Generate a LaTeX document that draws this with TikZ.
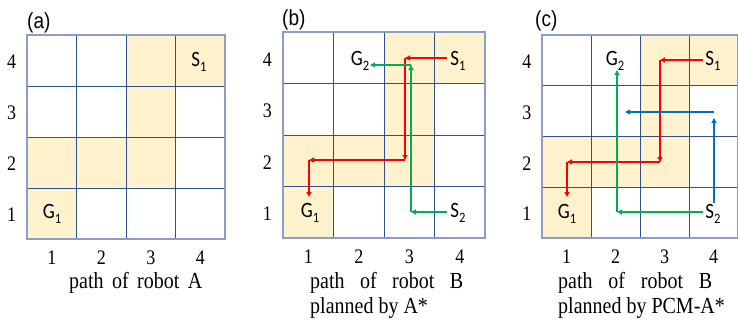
\documentclass[tikz,border=0pt]{standalone}
\usepackage{fontspec}
\usepackage{graphicx}
\setmainfont{Liberation Serif}
\newfontfamily\lblfont{Carlito}
\newfontfamily\panelfont{Liberation Sans}
\usetikzlibrary{arrows.meta}

\definecolor{cellfill}{RGB}{255,242,204}
\definecolor{gridin}{RGB}{47,82,143}
\definecolor{gridout}{RGB}{140,158,196}
\definecolor{pathred}{RGB}{255,0,0}
\definecolor{pathgreen}{RGB}{0,176,80}
\definecolor{pathblue}{RGB}{0,112,192}

\tikzset{
  move/.style={line width=1.4pt, -{Triangle[length=5pt,width=5pt]}},
  digit/.style={font=\fontsize{18}{18}\selectfont, inner sep=0pt},
  caption/.style={font=\fontsize{20}{25}\selectfont, inner sep=0pt, align=left, anchor=base west},
  panel/.style={font=\panelfont\fontsize{19}{19}\selectfont, inner sep=0pt, anchor=base west},
  cellmark/.style={font=\lblfont\fontsize{19}{19}\selectfont, inner sep=0pt},
}

% text in this figure is set slightly taller than wide
\newcommand\vstretch[1]{\scalebox{1}[1.15]{#1}}
% S/G marks with a lowered small index
\newcommand\cellname[2]{\vstretch{#1\raisebox{-4pt}{\fontsize{12.5}{12.5}\selectfont #2}}}

% 4x4 board: #1,#2 top-left corner, #3 cell width, #4 cell height, #5 name prefix
\newcommand\board[5]{%
  \begin{scope}[shift={(#1,#2)}, x=#3pt, y=-#4pt]
    \foreach \c/\r in {3/4,4/4,3/3,1/2,2/2,3/2,1/1}
      \fill[cellfill] (\c-1,4-\r) rectangle (\c,5-\r);
    \draw[gridin, line width=1pt]
      (1,0)--(1,4) (2,0)--(2,4) (3,0)--(3,4)
      (0,1)--(4,1) (0,2)--(4,2) (0,3)--(4,3);
    \draw[gridout, line width=1.5pt] (0,0) rectangle (4,4);
    \foreach \k in {1,...,4} {
      \node[digit] (#5col\k) at (\k-0.5,4.36) {\vstretch{\k}};
      \node[digit] (#5row\k) at (-0.31,4.53-\k) {\vstretch{\k}};
    }
  \end{scope}}

\begin{document}
\begin{tikzpicture}[x=1pt, y=-1pt]
  \useasboundingbox (0,0) rectangle (738,324);
  \clip (0,0) rectangle (738,324);

  % ---------- (a) path of robot A ----------
  \node[panel] (pa) at (27,28) {\vstretch{(a)}};
  \board{27}{35}{49.5}{51}{a}
  \node[cellmark] (aS1) at (199,62) {\cellname{S}{1}};
  \node[cellmark] (aG1) at (52,214) {\cellname{G}{1}};
  \node[caption] (capa) at (69,288) {\vstretch{\makebox[133pt][s]{path of robot A}}};

  % ---------- (b) robot B planned by A* ----------
  \node[panel] (pb) at (282,25) {\vstretch{(b)}};
  \board{283}{32}{50.5}{51.5}{b}
  \node[cellmark] (bS1) at (458,61) {\cellname{S}{1}};
  \node[cellmark] (bG2) at (360,61) {\cellname{G}{2}};
  \node[cellmark] (bG1) at (310,213) {\cellname{G}{1}};
  \node[cellmark] (bS2) at (458,213) {\cellname{S}{2}};
  % robot A
  \coordinate (br0) at (447,58);
  \coordinate (br1) at (405,58);
  \coordinate (br2) at (405,160);
  \coordinate (br3) at (309,160);
  \coordinate (br4) at (309,197);
  \draw[move, pathred] (br0) -- (br1);
  \draw[move, pathred] (br1) -- (br2);
  \draw[move, pathred] (br2) -- (br3);
  \draw[move, pathred] (br3) -- (br4);
  % robot B
  \coordinate (bg0) at (447,212);
  \coordinate (bg1) at (411,212);
  \coordinate (bg2) at (411,65);
  \coordinate (bg3) at (370,65);
  \draw[move, pathgreen] (bg0) -- (bg1);
  \draw[move, pathgreen] (bg1) -- (bg2);
  \draw[move, pathgreen] (bg2) -- (bg3);
  \node[caption] (capb) at (310,313)
    {\vstretch{\makebox[153pt][s]{path of robot B}}\\\vstretch{planned by A*}};

  % ---------- (c) robot B planned by PCM-A* ----------
  \node[panel] (pc) at (535,27) {\vstretch{(c)}};
  \board{542}{35}{49}{50.75}{c}
  \node[cellmark] (cS1) at (713,61) {\cellname{S}{1}};
  \node[cellmark] (cG2) at (615,61) {\cellname{G}{2}};
  \node[cellmark] (cG1) at (567,214) {\cellname{G}{1}};
  \node[cellmark] (cS2) at (713,214) {\cellname{S}{2}};
  % robot A
  \coordinate (cr0) at (703,60);
  \coordinate (cr1) at (660,60);
  \coordinate (cr2) at (660,162);
  \coordinate (cr3) at (567,162);
  \coordinate (cr4) at (567,197);
  \draw[move, pathred] (cr0) -- (cr1);
  \draw[move, pathred] (cr1) -- (cr2);
  \draw[move, pathred] (cr2) -- (cr3);
  \draw[move, pathred] (cr3) -- (cr4);
  % robot B
  \coordinate (cg0) at (703,212);
  \coordinate (cg1) at (617,212);
  \coordinate (cg2) at (617,70);
  \draw[move, pathgreen] (cg0) -- (cg1);
  \draw[move, pathgreen] (cg1) -- (cg2);
  % PCM-A* conflict detour
  \coordinate (cb0) at (714,203);
  \coordinate (cb1) at (714,118);
  \coordinate (cb2) at (714,112);
  \coordinate (cb3) at (625,112);
  \draw[move, pathblue] (cb0) -- (cb1);
  \draw[move, pathblue] (cb2) -- (cb3);
  \node[caption] (capc) at (558,313)
    {\vstretch{\makebox[154pt][s]{path of robot B}}\\\vstretch{planned by PCM-A*}};
\end{tikzpicture}
\end{document}
